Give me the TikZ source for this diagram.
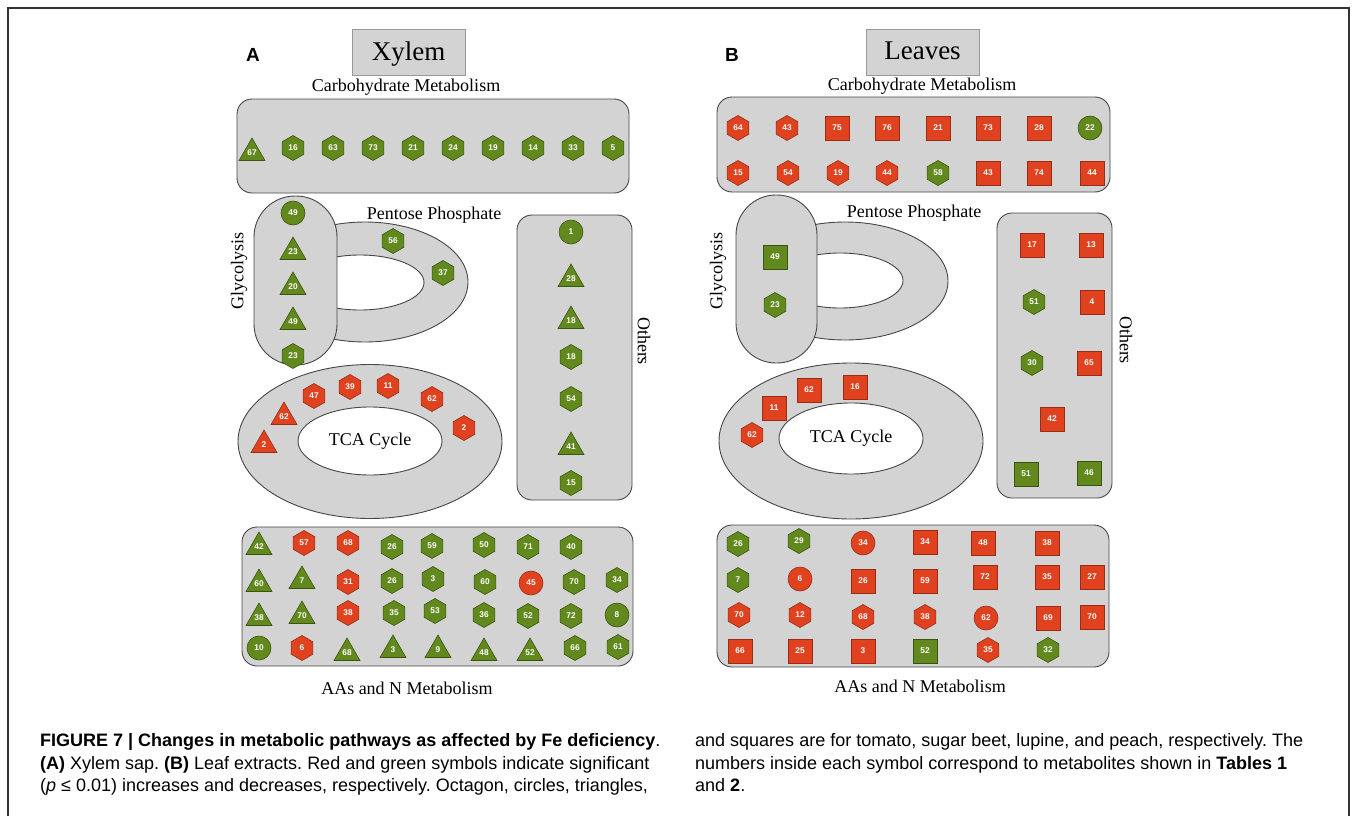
\documentclass[tikz,border=0pt]{standalone}
\usepackage{fontspec}
\setmainfont{Liberation Serif}
\setsansfont{Liberation Sans}
\usetikzlibrary{positioning, shapes.geometric}

\definecolor{boxgray}{RGB}{211,211,211}
\definecolor{boxline}{RGB}{70,70,70}
\definecolor{symred}{RGB}{224,66,31}
\definecolor{symredd}{RGB}{150,45,20}
\definecolor{symgrn}{RGB}{98,137,30}
\definecolor{symgrnd}{RGB}{58,86,14}

\begin{document}
\frenchspacing
\begin{tikzpicture}[x=1pt, y=-1pt,
	grp/.style={draw=boxline, fill=boxgray, line width=0.9pt, rounded corners=15pt, inner sep=0pt},
	ring/.style={ellipse, draw=boxline, fill=boxgray, line width=0.9pt, inner sep=0pt},
	hole/.style={ellipse, draw=boxline, fill=white, line width=0.9pt, inner sep=0pt},
	title/.style={draw=black!40, fill=boxgray, line width=0.8pt, minimum width=113pt, minimum height=46pt, text depth=2pt, font=\fontsize{27}{30}\selectfont},
	lbl/.style={font=\fontsize{18}{20}\selectfont, inner sep=0pt},
	panel/.style={font=\sffamily\bfseries\fontsize{19}{20}\selectfont, inner sep=0pt},
	capt/.style={font=\sffamily\fontsize{18}{20}\selectfont, inner sep=0pt, anchor=base west},
	sym/.style={inner sep=0pt, line width=0.6pt, text=white, font=\sffamily\bfseries\fontsize{8.3}{9}\selectfont},
	incr/.style={fill=symred, draw=symredd},
	decr/.style={fill=symgrn, draw=symgrnd},
	hexa/.style={sym, regular polygon, regular polygon sides=6, shape border rotate=30, minimum size=25pt},
	tri/.style={sym, regular polygon, regular polygon sides=3, minimum size=30pt},
	circ/.style={sym, circle, minimum size=24pt},
	sqr/.style={sym, rectangle, minimum size=24pt}]
	\useasboundingbox (0,0) rectangle (1356,816);
	\draw[line width=1.3pt, black!80] (8,816) -- (8,8) -- (1349,8) -- (1349,816);

	% --- Panel A: Xylem ---
	\node[panel] (pa) at (253,55) {A};
	\node[title] (xylem) at (408.5,52) {Xylem};

	% Carbohydrate metabolism
	\node[grp, minimum width=392pt, minimum height=94pt] (carbA) at (433,146) {};
	\node[lbl] (carbAl) at (406,87) {Carbohydrate Metabolism};

	% Pentose phosphate ring (under glycolysis)
	\node[ring, minimum width=206pt, minimum height=120pt] (pentA) at (365,282) {};
	\node[hole, minimum width=128pt, minimum height=55pt] (pentAh) at (360,282.5) {};
	\node[lbl] (pentAl) at (434,215) {Pentose Phosphate};

	% Glycolysis
	\node[grp, rounded corners=41pt, minimum width=83pt, minimum height=169pt] (glyA) at (295.5,280.5) {};
	\node[lbl, rotate=90] (glyAl) at (239,271) {Glycolysis};

	% TCA cycle
	\node[ring, minimum width=264pt, minimum height=154pt] (tcaA) at (370,441.5) {};
	\node[hole, minimum width=144pt, minimum height=68pt, font=\fontsize{18}{20}\selectfont] (tcaAh) at (370,441) {TCA Cycle};

	% Others
	\node[grp, minimum width=115pt, minimum height=285pt] (othA) at (574.5,357.5) {};
	\node[lbl, rotate=-90] (othAl) at (644,341) {Others};

	% AAs and N metabolism
	\node[grp, minimum width=391pt, minimum height=139pt] (aaA) at (437.5,596.5) {};
	\node[lbl] (aaAl) at (407,688) {AAs and N Metabolism};

	% --- Symbols A ---
	\foreach \s/\c/\x/\y/\n [count=\i] in {tri/decr/252/153/67, hexa/decr/293/148/16,
		hexa/decr/333/148/63, hexa/decr/373/148/73, hexa/decr/413/148/21, hexa/decr/453/148/24,
		hexa/decr/493/148/19, hexa/decr/533/148/14, hexa/decr/573/148/33, hexa/decr/613/148/5}
		\node[\s, \c] (ca\i) at (\x,\y) {\n};
	\foreach \s/\c/\x/\y/\n [count=\i] in {circ/decr/293/213/49, tri/decr/293/252/23,
		tri/decr/293/287/20, tri/decr/293/322/49, hexa/decr/293/356/23,
		hexa/decr/393/241/56, hexa/decr/443/273/37}
		\node[\s, \c] (ga\i) at (\x,\y) {\n};
	\foreach \s/\c/\x/\y/\n [count=\i] in {tri/incr/264/445/2, tri/incr/284/417/62,
		hexa/incr/314/396/47, hexa/incr/350/387/39, hexa/incr/388/386/11,
		hexa/incr/432/399/62, hexa/incr/464/428/2}
		\node[\s, \c] (ta\i) at (\x,\y) {\n};
	\foreach \s/\c/\x/\y/\n [count=\i] in {circ/decr/571/232/1, tri/decr/571/279/28,
		tri/decr/571/321/18, hexa/decr/571/357/18, hexa/decr/571/399/54,
		tri/decr/571/447/41, hexa/decr/571/483/15}
		\node[\s, \c] (oa\i) at (\x,\y) {\n};
	\foreach \s/\c/\x/\y/\n [count=\i] in {tri/decr/259/547/42, hexa/incr/304/543/57,
		hexa/incr/348/543/68, hexa/decr/392/547/26, hexa/decr/432/546/59, hexa/decr/484/545/50,
		hexa/decr/528/547/71, hexa/decr/571/547/40,
		tri/decr/259/584/60, tri/decr/302/581/7, hexa/incr/348/582/31, hexa/decr/392/581/26,
		hexa/decr/433/579/3, hexa/decr/485/582/60, circ/incr/531/583/45, hexa/decr/574/582/70,
		hexa/decr/617/580/34,
		tri/decr/259/618/38, tri/decr/302/616/70, hexa/incr/348/613/38, hexa/decr/394/613/35,
		hexa/decr/435/611/53, hexa/decr/484/615/36, hexa/decr/528/616/52, hexa/decr/571/616/72,
		circ/decr/617/615/8,
		circ/decr/259/648/10, hexa/incr/302/648/6, tri/decr/347/653/68, tri/decr/393/650/3,
		tri/decr/438/650/9, tri/decr/484/653/48, tri/decr/530/653/52, hexa/decr/575/648/66,
		hexa/decr/618/647/61}
		\node[\s, \c] (aa\i) at (\x,\y) {\n};

	% --- Panel B: Leaves ---
	\node[panel] (pb) at (732,55) {B};
	\node[title] (leaves) at (922.5,52) {Leaves};

	% Carbohydrate metabolism
	\node[grp, minimum width=393pt, minimum height=95pt] (carbB) at (913.5,144.5) {};
	\node[lbl] (carbBl) at (922,86) {Carbohydrate Metabolism};

	% Pentose phosphate ring
	\node[ring, minimum width=206pt, minimum height=118pt] (pentB) at (845,281) {};
	\node[hole, minimum width=126pt, minimum height=55pt] (pentBh) at (840,280.5) {};
	\node[lbl] (pentBl) at (914,213) {Pentose Phosphate};

	% Glycolysis
	\node[grp, rounded corners=40pt, minimum width=81pt, minimum height=168pt] (glyB) at (776.5,279) {};
	\node[lbl, rotate=90] (glyBl) at (718,271) {Glycolysis};

	% TCA cycle
	\node[ring, minimum width=264pt, minimum height=156pt] (tcaB) at (851,441) {};
	\node[hole, minimum width=144pt, minimum height=71pt, font=\fontsize{18}{20}\selectfont] (tcaBh) at (851,438.5) {TCA Cycle};

	% Others
	\node[grp, minimum width=115pt, minimum height=285pt] (othB) at (1054.5,355.5) {};
	\node[lbl, rotate=-90] (othBl) at (1126,340) {Others};

	% AAs and N metabolism
	\node[grp, minimum width=392pt, minimum height=142pt] (aaB) at (913,596) {};
	\node[lbl] (aaBl) at (920,686) {AAs and N Metabolism};

	% --- Symbols B ---
	\foreach \s/\c/\x/\y/\n [count=\i] in {hexa/incr/738/128/64, hexa/incr/787/128/43,
		sqr/incr/837/128/75, sqr/incr/887/128/76, sqr/incr/938/128/21, sqr/incr/988/128/73,
		sqr/incr/1039/128/28, circ/decr/1090/128/22,
		hexa/incr/738/173/15, hexa/incr/788/173/54, hexa/incr/838/173/19, hexa/incr/887/173/44,
		hexa/decr/938/173/58, sqr/incr/988/173/43, sqr/incr/1039/173/74, sqr/incr/1092/173/44}
		\node[\s, \c] (cb\i) at (\x,\y) {\n};
	\foreach \s/\c/\x/\y/\n [count=\i] in {sqr/decr/775/257/49, hexa/decr/775/305/23}
		\node[\s, \c] (gb\i) at (\x,\y) {\n};
	\foreach \s/\c/\x/\y/\n [count=\i] in {hexa/incr/752/435/62, sqr/incr/774/408/11,
		sqr/incr/809/390/62, sqr/incr/855/387/16}
		\node[\s, \c] (tb\i) at (\x,\y) {\n};
	\foreach \s/\c/\x/\y/\n [count=\i] in {sqr/incr/1032/245/17, sqr/incr/1091/245/13,
		hexa/decr/1034/302/51, sqr/incr/1092/302/4, hexa/decr/1032/363/30, sqr/incr/1089/363/65,
		sqr/incr/1052/419/42, sqr/decr/1026/474/51, sqr/decr/1089/473/46}
		\node[\s, \c] (ob\i) at (\x,\y) {\n};
	\foreach \s/\c/\x/\y/\n [count=\i] in {hexa/decr/738/544/26, hexa/decr/799/541/29,
		circ/incr/863/543/34, sqr/incr/925/542/34, sqr/incr/983/543/48, sqr/incr/1047/543/38,
		hexa/decr/738/580/7, circ/incr/800/579/6, sqr/incr/863/581/26, sqr/incr/925/581/59,
		sqr/incr/985/577/72, sqr/incr/1047/577/35, sqr/incr/1092/577/27,
		hexa/incr/739/615/70, hexa/incr/800/615/12, hexa/incr/863/617/68, hexa/incr/925/617/38,
		circ/incr/986/618/62, sqr/incr/1048/618/69, sqr/incr/1092/617/70,
		sqr/incr/740/651/66, sqr/incr/800/651/25, sqr/incr/863/651/3, sqr/decr/925/651/52,
		hexa/incr/988/650/35, hexa/decr/1048/650/32}
		\node[\s, \c] (ab\i) at (\x,\y) {\n};

	% --- Caption ---
	\node[capt] (cap1) at (40,746) {\textbf{FIGURE 7 | Changes in metabolic pathways as affected by Fe deficiency}.};
	\node[capt] (cap2) at (40,769) {\textbf{(A)} Xylem sap. \textbf{(B)} Leaf extracts. Red and green symbols indicate significant};
	\node[capt] (cap3) at (40,791) {(\textit{p} ≤ 0.01) increases and decreases, respectively. Octagon, circles, triangles,};
	\node[capt] (cap4) at (695,746) {and squares are for tomato, sugar beet, lupine, and peach, respectively. The};
	\node[capt] (cap5) at (695,769) {numbers inside each symbol correspond to metabolites shown in \textbf{Tables 1}};
	\node[capt] (cap6) at (695,791) {and \textbf{2}.};
\end{tikzpicture}
\end{document}
